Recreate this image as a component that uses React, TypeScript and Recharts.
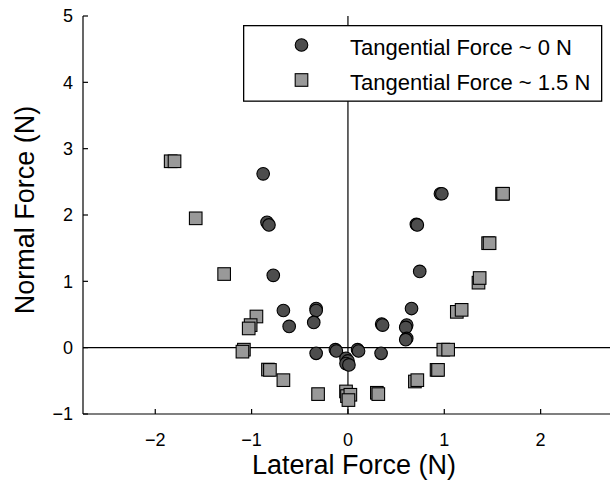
import { ScatterChart, Scatter, XAxis, YAxis, ReferenceLine, Legend, Label } from 'recharts';

// [lateral, normal] in N
const TANGENTIAL_0: [number, number][] = [
  [-0.88, 2.62], [-0.84, 1.89], [-0.82, 1.85], [-0.775, 1.09], [-0.67, 0.56], [-0.61, 0.32],
  [-0.33, 0.59], [-0.33, 0.56], [-0.355, 0.38], [-0.33, -0.085], [-0.13, -0.03], [-0.12, -0.05],
  [0.1, -0.03], [0.11, -0.05], [-0.02, -0.16], [0.0, -0.2], [-0.02, -0.24], [0.01, -0.26],
  [0.344, -0.085], [0.35, 0.355], [0.36, 0.34], [0.61, 0.34], [0.6, 0.305], [0.61, 0.14],
  [0.6, 0.12], [0.66, 0.59], [0.745, 1.15], [0.71, 1.86], [0.72, 1.85], [0.96, 2.32], [0.975, 2.32],
];

const TANGENTIAL_15: [number, number][] = [
  [-1.84, 2.81], [-1.8, 2.81], [-1.58, 1.95], [-1.285, 1.11], [-0.95, 0.47], [-1.01, 0.34],
  [-1.03, 0.29], [-1.08, -0.03], [-1.095, -0.06], [-0.83, -0.33], [-0.81, -0.335], [-0.67, -0.49],
  [-0.31, -0.7], [-0.02, -0.66], [-0.01, -0.73], [0.025, -0.71], [0.005, -0.79], [0.3, -0.68],
  [0.315, -0.7], [0.695, -0.51], [0.72, -0.49], [0.92, -0.335], [0.935, -0.335], [0.99, -0.03],
  [1.04, -0.03], [1.13, 0.54], [1.18, 0.57], [1.355, 0.98], [1.367, 1.05], [1.455, 1.575],
  [1.47, 1.575], [1.6, 2.32], [1.61, 2.32],
];

const X_TICKS = [-2, -1, 0, 1, 2];
const Y_TICKS = [-1, 0, 1, 2, 3, 4, 5];
const LEGEND_LABELS = ['Tangential Force ~ 0 N', 'Tangential Force ~ 1.5 N'];

const FONT = '"Liberation Sans", Arial, Helvetica, sans-serif';
const CIRCLE_FILL = '#4d4d4d';
const SQUARE_FILL = '#999999';

const toRows = (pts: [number, number][]) => pts.map(([x, y]) => ({ x, y }));
const fmt = (v: number) => (v < 0 ? '\u2212' + Math.abs(v) : String(v));

function CircleMark(props: any) {
  return <circle cx={props.cx} cy={props.cy} r={6.3} fill={CIRCLE_FILL} stroke="#000" strokeWidth={1.1} />;
}

function SquareMark(props: any) {
  return <rect x={props.cx - 6.3} y={props.cy - 6.3} width={12.6} height={12.6} fill={SQUARE_FILL} stroke="#000" strokeWidth={1.1} />;
}

function LegendBox() {
  return (
    <svg width={360} height={77} style={{ display: 'block' }}>
      <rect x={0.65} y={0.65} width={358} height={75.5} fill="#fff" stroke="#000" strokeWidth={1.3} />
      <circle cx={58.5} cy={20} r={6.3} fill={CIRCLE_FILL} stroke="#000" strokeWidth={1.1} />
      <rect x={52.2} y={48.7} width={12.6} height={12.6} fill={SQUARE_FILL} stroke="#000" strokeWidth={1.1} />
      <text x={107} y={30} fontSize={22} fontFamily={FONT} fill="#000">{LEGEND_LABELS[0]}</text>
      <text x={107} y={65} fontSize={22} fontFamily={FONT} fill="#000">{LEGEND_LABELS[1]}</text>
    </svg>
  );
}

export default function App() {
  const tick = { fontSize: 18, fill: '#000', fontFamily: FONT };
  return (
    <div style={{ position: 'absolute', left: 0, top: 0, background: '#fff' }}>
      <ScatterChart width={610} height={482} margin={{ top: 16, right: 0, bottom: 67, left: 82 }}>
        <XAxis
          type="number"
          dataKey="x"
          domain={[-2.75, 2.72]}
          ticks={X_TICKS}
          tickFormatter={fmt}
          height={1}
          tickSize={-5}
          tickMargin={24}
          tick={tick}
          axisLine={{ stroke: '#000', strokeWidth: 1.2 }}
          tickLine={{ stroke: '#000', strokeWidth: 1.2 }}
          allowDataOverflow
        >
          <Label
            content={() => (
              <text x={354} y={474} textAnchor="middle" fontSize={27} fill="#000" fontFamily={FONT}>
                Lateral Force (N)
              </text>
            )}
          />
        </XAxis>
        <YAxis
          type="number"
          dataKey="y"
          domain={[-1, 5]}
          ticks={Y_TICKS}
          tickFormatter={fmt}
          width={1}
          tickSize={-5}
          tickMargin={15}
          tick={tick}
          axisLine={{ stroke: '#000', strokeWidth: 1.2 }}
          tickLine={{ stroke: '#000', strokeWidth: 1.2 }}
          allowDataOverflow
        >
          <Label
            content={() => (
              <text x={0} y={0} transform="translate(34,210) rotate(-90)" textAnchor="middle" fontSize={27} fill="#000" fontFamily={FONT}>
                Normal Force (N)
              </text>
            )}
          />
        </YAxis>
        <ReferenceLine x={0} stroke="#000" strokeWidth={1.2} />
        <ReferenceLine y={0} stroke="#000" strokeWidth={1.2} />
        <Scatter name={LEGEND_LABELS[0]} data={toRows(TANGENTIAL_0)} shape={CircleMark} isAnimationActive={false} />
        <Scatter name={LEGEND_LABELS[1]} data={toRows(TANGENTIAL_15)} shape={SquareMark} isAnimationActive={false} />
        <Legend
          layout="horizontal"
          verticalAlign="middle"
          content={() => <LegendBox />}
          wrapperStyle={{ left: 243, top: 25, width: 360, height: 77, zIndex: 5 }}
        />
      </ScatterChart>
    </div>
  );
}
